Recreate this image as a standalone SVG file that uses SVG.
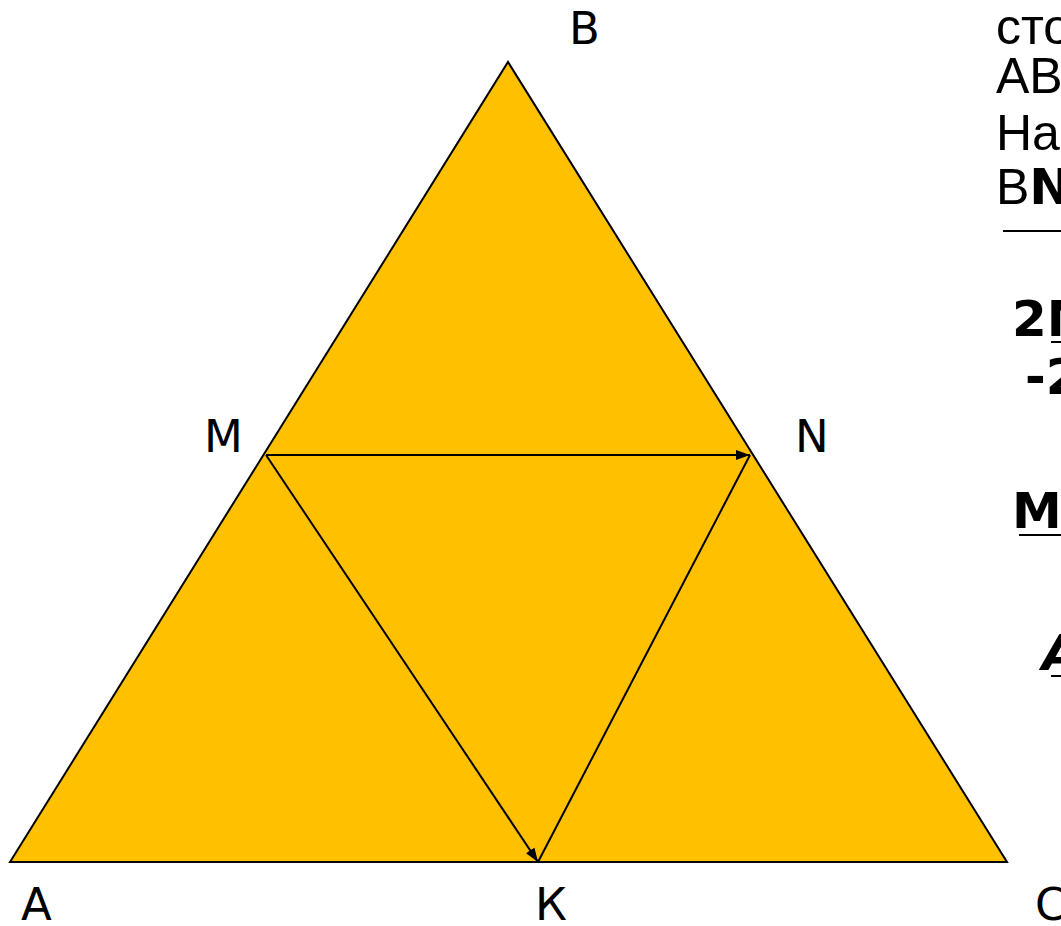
<svg xmlns="http://www.w3.org/2000/svg" width="1061" height="926" viewBox="0 0 1061 926">
<style>
.lbl{font-family:"DejaVu Sans",Verdana,sans-serif;font-size:45px;fill:#000}
.txt{font-family:"Liberation Sans",Arial,sans-serif;font-size:50px;fill:#000}
.bold{font-family:"DejaVu Sans",sans-serif;font-size:50px;font-weight:bold;fill:#000}
.edge{stroke:#000;stroke-width:2;fill:none}
</style>
<defs>
<marker id="arr" viewBox="0 0 14 10" refX="14" refY="5" markerWidth="14" markerHeight="10" markerUnits="userSpaceOnUse" orient="auto">
<path d="M0,0 L14,5 L0,10 z" fill="#000"/>
</marker>
</defs>
<rect width="1061" height="926" fill="#fff"/>
<g id="triangle">
<polygon points="10,862 508,62 1007,862" fill="#FFC000" stroke="#000" stroke-width="2"/>
</g>
<g id="connectors">
<line class="edge" x1="266" y1="455" x2="750" y2="455" marker-end="url(#arr)"/>
<line class="edge" x1="266" y1="455" x2="538" y2="862" marker-end="url(#arr)"/>
<line class="edge" x1="538" y1="862" x2="750" y2="455"/>
</g>
<g id="labels">
<text class="lbl" x="569" y="44">B</text>
<text class="lbl" x="204" y="452">M</text>
<text class="lbl" x="795" y="452">N</text>
<text class="lbl" x="21" y="920">A</text>
<text class="lbl" x="535" y="920">К</text>
<text class="lbl" x="1035" y="920">C</text>
</g>
<g id="sidetext">
<text class="txt" x="996" y="44">сто</text>
<text class="txt" x="996" y="93">AB</text>
<text class="txt" x="996" y="150">На</text>
<text class="txt" x="996" y="204">B<tspan font-family="DejaVu Sans" font-weight="bold">N</tspan></text>
<line x1="1003" y1="231" x2="1061" y2="231" stroke="#000" stroke-width="2"/>
<text class="bold" x="1012" y="336">2M</text>
<line x1="1051" y1="342" x2="1061" y2="342" stroke="#000" stroke-width="2"/>
<text class="bold" x="1025" y="394">-2</text>
<text class="bold" x="1012" y="528">MN</text>
<line x1="1019" y1="535" x2="1061" y2="535" stroke="#000" stroke-width="2"/>
<text class="bold" x="1042" y="670" font-style="italic">A</text>
<line x1="1051" y1="676" x2="1061" y2="676" stroke="#000" stroke-width="2"/>
</g>
</svg>
